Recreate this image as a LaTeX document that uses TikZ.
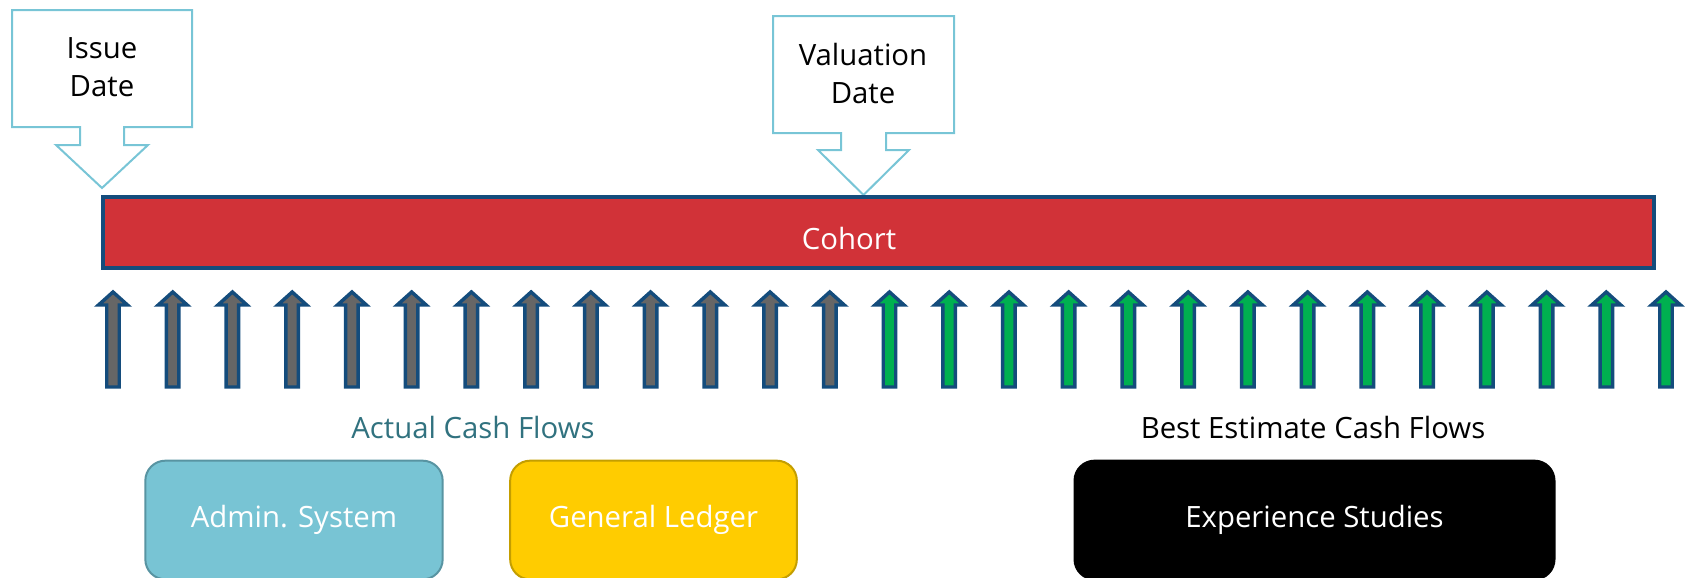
\documentclass[tikz,border=0pt]{standalone}
\usepackage{fontspec}
\setmainfont{Open Sans}
\usepackage{tikz}
\usetikzlibrary{arrows.meta}

\definecolor{calloutblue}{RGB}{120,197,214}
\definecolor{barblue}{RGB}{20,76,124}
\definecolor{cohortred}{RGB}{209,50,56}
\definecolor{cfgray}{RGB}{102,102,102}
\definecolor{cfgreen}{RGB}{0,176,80}
\definecolor{actualteal}{RGB}{49,114,127}
\definecolor{adminfill}{RGB}{120,196,212}
\definecolor{admindraw}{RGB}{88,148,162}
\definecolor{ledgerfill}{RGB}{255,204,0}
\definecolor{ledgerdraw}{RGB}{196,158,0}

\tikzset{
  bigtext/.style={font=\fontsize{22}{28.5}\selectfont, align=center, inner sep=0pt},
  calloutline/.style={draw=calloutblue, line width=1.5pt, line join=miter},
  cohortbar/.style={draw=barblue, fill=cohortred, line width=3pt, minimum width=1163pt, minimum height=53pt, inner sep=0pt},
  cfarrow/.style={draw=barblue, line width=2.6pt, line join=miter},
  sourcebox/.style={bigtext, text=white, rounded corners=15pt, line width=1.5pt, minimum width=223pt, minimum height=89pt}
}

\begin{document}
\begin{tikzpicture}[x=0.75pt,y=-0.75pt]
\useasboundingbox (0,0) rectangle (1685,578);

% date callouts
\node[bigtext] (issue) at (102,67) {Issue\\Date};
\draw[calloutline] (12,10) -- (192,10) -- (192,127) -- (124,127) -- (124,145) -- (148,145) -- (102,188) -- (56,145) -- (80,145) -- (80,127) -- (12,127) -- cycle;
\node[bigtext] (valuation) at (863,73) {Valuation\\Date};
\draw[calloutline] (773,16) -- (954,16) -- (954,133) -- (886,133) -- (886,150) -- (909,150) -- (863.5,195) -- (818,150) -- (841,150) -- (841,133) -- (773,133) -- cycle;

% cohort bar
\node[cohortbar] (cohort) at (878.5,232.5) {};
\node[bigtext, text=white] (cohortlbl) at (849,238) {Cohort};

% cash flow arrows
\foreach \i in {0,...,26}{
  \pgfmathsetmacro\ax{113+59.73*\i}
  \ifnum\i<13 \def\cfcol{cfgray}\else\def\cfcol{cfgreen}\fi
  \draw[cfarrow, fill=\cfcol] (\ax-6.25,387) -- (\ax-6.25,305) -- (\ax-14.5,305) -- (\ax,292) -- (\ax+14.5,305) -- (\ax+6.25,305) -- (\ax+6.25,387) -- cycle;
}

% sources
\node[bigtext, text=actualteal] (actual) at (473,427) {Actual Cash Flows};
\node[bigtext] (bestest) at (1313,427) {Best Estimate Cash Flows};
\node[sourcebox, fill=adminfill, draw=admindraw] (admin) at (294,520) {Admin. System};
\node[sourcebox, fill=ledgerfill, draw=ledgerdraw, minimum width=215pt] (ledger) at (653.5,520) {General Ledger};
\node[sourcebox, fill=black, draw=black, minimum width=360pt] (expstudies) at (1314.5,520) {Experience Studies};
\end{tikzpicture}
\end{document}
